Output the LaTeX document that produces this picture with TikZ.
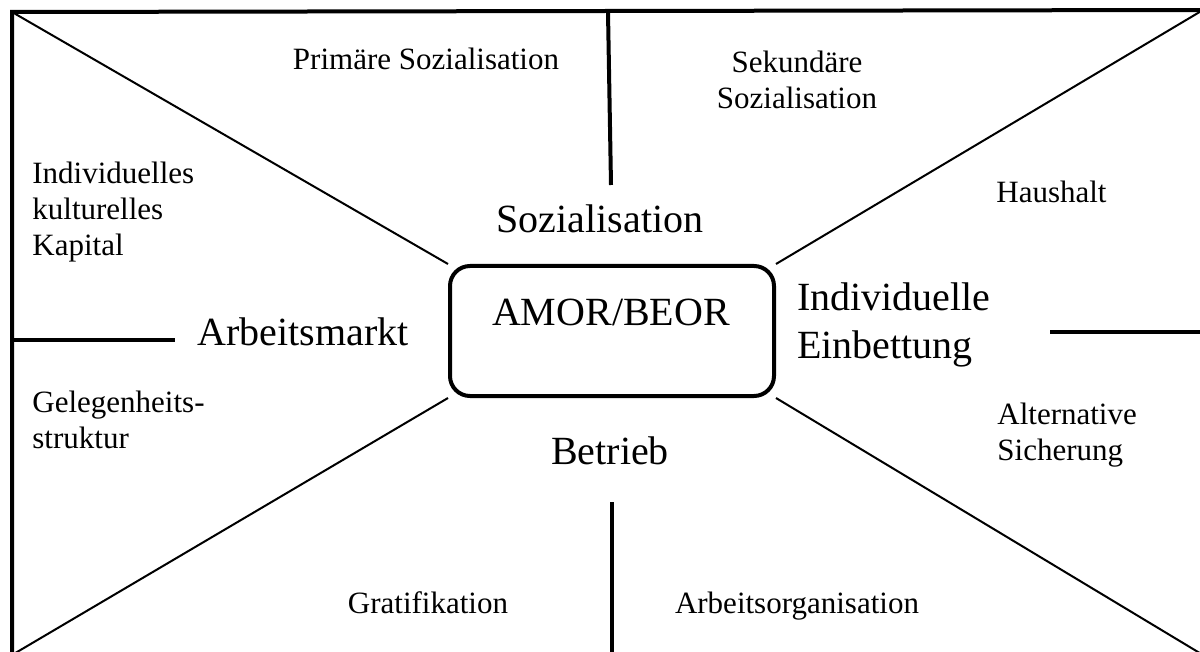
\documentclass[tikz,border=0pt]{standalone}
\usepackage{fontspec}
\setmainfont{Liberation Serif}
\usepackage{tikz}
\usetikzlibrary{positioning}

\begin{document}
\begin{tikzpicture}[x=0.5pt, y=-0.5pt,
        hub/.style={rectangle, rounded corners=10pt, draw, line width=2pt, fill=white, minimum width=162pt, minimum height=65pt},
        big/.style={font=\fontsize{20}{24}\selectfont, inner sep=0pt},
        small/.style={font=\fontsize{15.5}{18}\selectfont, inner sep=0pt},
        ray/.style={line width=1pt},
        bar/.style={line width=2pt}]

        \useasboundingbox (0,0) rectangle (1200,652);
        \clip (0,0) rectangle (1200,652);

        % frame corners
        \coordinate (tl) at (12,12);
        \coordinate (tr) at (1203,10);
        \coordinate (br) at (1203,655);
        \coordinate (bl) at (12,655);
        \draw[line width=2pt] (tl) -- (tr) -- (br) -- (bl) -- cycle;

        \node[hub] (amor) at (612,331) {};
        \node[big, anchor=base] (amortxt) at (611,326) {AMOR/BEOR};

        \draw[ray] (tl) -- (amor.north west);
        \draw[ray] (tr) -- (amor.north east);
        \draw[ray] (bl) -- (amor.south west);
        \draw[ray] (br) -- (amor.south east);

        % dividers
        \coordinate (topA) at (608,12);
        \coordinate (topB) at (611,185);
        \coordinate (botA) at (612,502);
        \coordinate (botB) at (612,655);
        \coordinate (leftA) at (12,340);
        \coordinate (leftB) at (175,340);
        \coordinate (rightA) at (1050,332);
        \coordinate (rightB) at (1203,332);
        \draw[bar] (topA) -- (topB);
        \draw[bar] (botA) -- (botB);
        \draw[bar] (leftA) -- (leftB);
        \draw[bar] (rightA) -- (rightB);

        % main labels
        \node[big, anchor=base] (soz) at (600,233) {Sozialisation};
        \node[big, anchor=base] (arb) at (303,346) {Arbeitsmarkt};
        \node[big, anchor=base] (betr) at (610,464) {Betrieb};
        \node[big, align=left, anchor=west] (einb) at (797,325) {Individuelle\\Einbettung};

        % sub labels
        \node[small, anchor=base] (prim) at (426,70) {Primäre Sozialisation};
        \node[small, align=center] (sek) at (797,80) {Sekundäre\\Sozialisation};
        \node[small, align=left, anchor=west] (kap) at (32,212) {Individuelles\\kulturelles\\Kapital};
        \node[small, align=left, anchor=west] (gel) at (32,420) {Gelegenheits-\\struktur};
        \node[small, anchor=base west] (haus) at (996,203) {Haushalt};
        \node[small, align=left, anchor=west] (alt) at (997,435) {Alternative\\Sicherung};
        \node[small, anchor=base] (grat) at (428,613) {Gratifikation};
        \node[small, anchor=base] (orga) at (797,613) {Arbeitsorganisation};
    \end{tikzpicture}
\end{document}
